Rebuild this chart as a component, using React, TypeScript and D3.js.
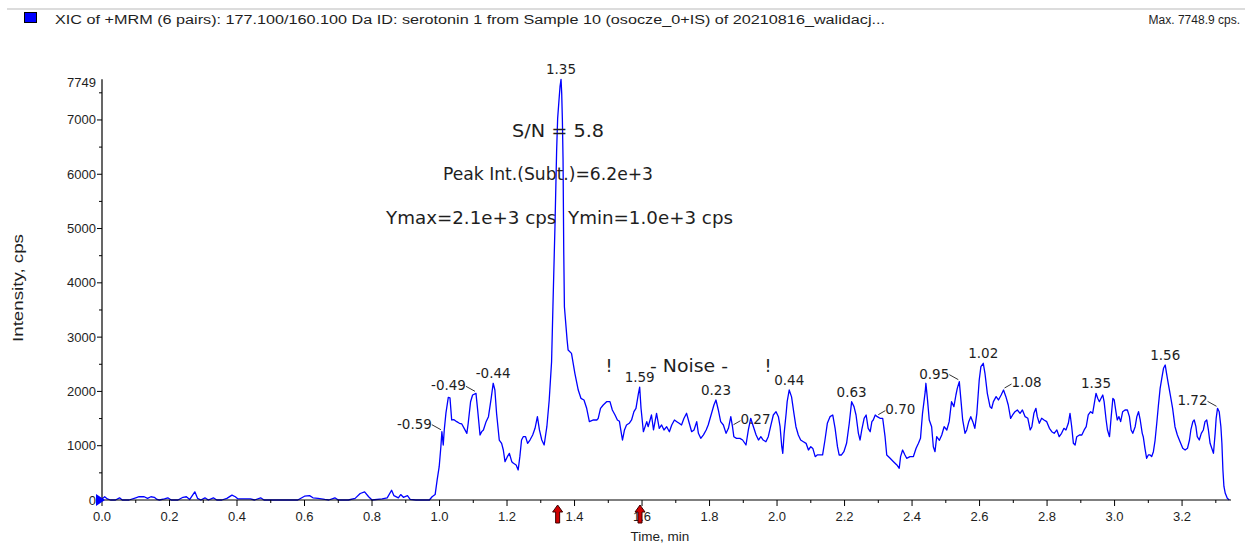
import React from 'react';
import * as d3 from 'd3';

// ---------- DATA ----------
const TITLE =
  'XIC of +MRM (6 pairs): 177.100/160.100 Da ID: serotonin 1 from Sample 10 (osocze_0+IS) of 20210816_walidacj...';
const MAX_TEXT = 'Max. 7748.9 cps.';
const X_LABEL = 'Time, min';
const Y_LABEL = 'Intensity, cps';

const X_MAX = 3.342;
const Y_MAX = 7749;

const xTickValues = [0, 0.2, 0.4, 0.6, 0.8, 1.0, 1.2, 1.4, 1.6, 1.8, 2.0, 2.2, 2.4, 2.6, 2.8, 3.0, 3.2];
const yTickValues = [0, 1000, 2000, 3000, 4000, 5000, 6000, 7000];

// [time (min), intensity (cps)]
const baselineSegment: [number, number][] = [
  [0.0, 20], [0.008, 60], [0.016, 20], [0.025, 0], [0.04, 0], [0.052, 40], [0.06, 0], [0.08, 0],
  [0.1, 40], [0.11, 60], [0.125, 60], [0.135, 30], [0.145, 60], [0.155, 50], [0.163, 10], [0.17, 0],
  [0.185, 20], [0.195, 40], [0.205, 0], [0.225, 0], [0.24, 50], [0.25, 60], [0.26, 10], [0.275, 150],
  [0.283, 30], [0.293, 0], [0.305, 40], [0.315, 0], [0.33, 40], [0.34, 0], [0.355, 0], [0.37, 30],
  [0.385, 90], [0.395, 60], [0.403, 20], [0.413, 20], [0.425, 20], [0.44, 20], [0.452, 0], [0.47, 40],
  [0.48, 0], [0.5, 0], [0.515, 0], [0.53, 0], [0.545, 0], [0.56, 0], [0.58, 0], [0.6, 70], [0.615, 80],
  [0.625, 40], [0.64, 30], [0.66, 10], [0.672, 0], [0.69, 40], [0.7, 0], [0.73, 0], [0.75, 30],
  [0.765, 120], [0.778, 150], [0.79, 60], [0.8, 0], [0.83, 20], [0.845, 40], [0.858, 180], [0.865, 80],
  [0.878, 40], [0.885, 100], [0.893, 50], [0.905, 80], [0.913, 10], [0.93, 0], [0.955, 0], [0.97, 0],
  [0.978, 60], [0.987, 100],
];

const riseSegment: [number, number][] = [
  [0.993, 370], [0.999, 613], [1.004, 982], [1.007, 1258], [1.011, 1013], [1.014, 1290], [1.019, 1600],
  [1.026, 1890], [1.031, 1880], [1.036, 1474], [1.043, 1480], [1.051, 1443], [1.059, 1413], [1.066, 1400],
  [1.073, 1320], [1.081, 1228], [1.085, 1413], [1.092, 1810], [1.098, 1934], [1.108, 1965], [1.113, 1658],
  [1.12, 1197], [1.125, 1260], [1.13, 1290], [1.138, 1443], [1.145, 1535], [1.153, 1873], [1.159, 2150],
  [1.164, 2026], [1.169, 1597], [1.177, 1105], [1.184, 1044], [1.189, 921], [1.194, 706], [1.201, 798],
  [1.207, 860], [1.214, 706], [1.219, 676], [1.227, 645], [1.233, 553], [1.238, 798], [1.243, 1105],
  [1.248, 1166], [1.255, 1166], [1.261, 1044], [1.268, 1105], [1.276, 1197], [1.283, 1320], [1.29, 1535],
  [1.296, 1290], [1.303, 1105], [1.31, 1013], [1.318, 1350], [1.325, 1842],
];

const peakSegment: [number, number][] = [
  [1.332, 2548], [1.336, 3560], [1.342, 5034], [1.347, 6447], [1.35, 7030], [1.354, 7368], [1.357, 7613],
  [1.36, 7749], [1.362, 7490], [1.364, 7000], [1.366, 6263], [1.368, 4605], [1.37, 3560], [1.378, 2947],
  [1.381, 2763], [1.391, 2700], [1.401, 2334], [1.411, 2026], [1.419, 1873], [1.428, 1842], [1.436, 1689],
  [1.444, 1443], [1.456, 1474], [1.466, 1474], [1.47, 1500], [1.477, 1689], [1.485, 1750], [1.495, 1811],
  [1.505, 1811], [1.512, 1658], [1.52, 1566], [1.527, 1474], [1.533, 1450], [1.537, 1290], [1.542, 1105],
  [1.548, 1290], [1.554, 1382], [1.562, 1413], [1.569, 1474], [1.576, 1627], [1.582, 1689], [1.589, 1950],
  [1.593, 2080], [1.597, 1689],
];

const noiseSegmentA: [number, number][] = [
  [1.604, 1258], [1.614, 1443], [1.618, 1350], [1.628, 1566], [1.634, 1290], [1.643, 1597], [1.651, 1320],
  [1.658, 1382], [1.665, 1290], [1.673, 1350], [1.681, 1258], [1.688, 1382], [1.696, 1474], [1.703, 1443],
  [1.71, 1413], [1.717, 1382], [1.724, 1500], [1.732, 1597], [1.74, 1413], [1.747, 1258], [1.754, 1290],
  [1.762, 1443], [1.767, 1228], [1.774, 1136], [1.782, 1200], [1.79, 1290], [1.796, 1382], [1.806, 1597],
  [1.813, 1750], [1.819, 1842], [1.826, 1658], [1.833, 1443], [1.841, 1382], [1.849, 1228], [1.856, 1320],
  [1.863, 1535], [1.868, 1350], [1.872, 1166], [1.88, 1136], [1.89, 1136], [1.898, 1105], [1.908, 1013],
  [1.915, 1290], [1.922, 1505], [1.93, 1350], [1.938, 1197], [1.945, 1105], [1.952, 1166], [1.959, 1105],
  [1.967, 1074], [1.974, 1166], [1.982, 1382], [1.989, 1566], [1.997, 1627], [2.004, 1535], [2.009, 1350],
  [2.014, 982], [2.017, 860], [2.021, 1228], [2.027, 1597], [2.03, 1811], [2.036, 2026], [2.043, 1900],
  [2.05, 1597], [2.056, 1350], [2.063, 1197], [2.07, 1105], [2.078, 1074], [2.086, 1044], [2.093, 921],
  [2.1, 982], [2.106, 950], [2.113, 798], [2.119, 830], [2.127, 830], [2.135, 830], [2.142, 1105],
  [2.149, 1413], [2.157, 1535], [2.165, 1566], [2.172, 1320], [2.179, 982], [2.184, 829], [2.191, 829],
  [2.198, 890], [2.206, 1044], [2.214, 1413], [2.221, 1811], [2.228, 1720], [2.234, 1566], [2.241, 1228],
  [2.246, 1105], [2.251, 1290], [2.258, 1505], [2.264, 1566], [2.27, 1320], [2.276, 1258], [2.281, 1443],
  [2.285, 1474], [2.291, 1566], [2.297, 1535], [2.305, 1505], [2.313, 1505], [2.32, 1166], [2.325, 829],
  [2.335, 768], [2.345, 706], [2.355, 645], [2.362, 584], [2.366, 800], [2.372, 921], [2.379, 829],
  [2.384, 768], [2.394, 800], [2.404, 800],
];

const noiseSegmentB: [number, number][] = [
  [2.412, 952], [2.419, 1044], [2.425, 1136], [2.431, 1597], [2.439, 1995], [2.441, 2150], [2.445, 1900],
  [2.451, 1474], [2.458, 1350], [2.463, 982], [2.468, 890], [2.473, 1166], [2.481, 1100], [2.488, 1197],
  [2.495, 1350], [2.503, 1290], [2.51, 1443], [2.517, 1811], [2.524, 1720], [2.53, 1934], [2.534, 2057],
  [2.54, 2180], [2.544, 1900], [2.55, 1474], [2.557, 1228], [2.562, 1290], [2.568, 1443], [2.574, 1535],
  [2.58, 1443], [2.586, 1320], [2.592, 1597], [2.599, 2210], [2.604, 2456], [2.611, 2518], [2.616, 2334],
  [2.623, 1965], [2.631, 1719], [2.636, 1690], [2.641, 1811], [2.649, 1903], [2.656, 1842], [2.664, 1934],
  [2.671, 2026], [2.678, 1903], [2.685, 1750], [2.692, 1505], [2.698, 1566], [2.705, 1627], [2.712, 1658],
  [2.72, 1597], [2.727, 1658], [2.735, 1535], [2.743, 1505], [2.75, 1290], [2.755, 1350], [2.761, 1597],
  [2.767, 1689], [2.771, 1535], [2.777, 1413], [2.784, 1505], [2.791, 1474], [2.799, 1443], [2.807, 1320],
  [2.814, 1258], [2.821, 1228], [2.829, 1290], [2.836, 1166], [2.843, 1228], [2.85, 1320], [2.856, 1290],
  [2.863, 1413], [2.868, 1597], [2.873, 1350], [2.878, 1044], [2.883, 1013], [2.888, 1166], [2.896, 1197],
  [2.903, 1197], [2.91, 1290], [2.916, 1350], [2.922, 1566], [2.929, 1627], [2.935, 1597], [2.94, 1781],
  [2.945, 1965], [2.95, 1873], [2.955, 1811], [2.96, 1873], [2.965, 1934], [2.969, 1811], [2.975, 1474],
  [2.979, 1290], [2.985, 1166], [2.99, 1535], [2.995, 1873], [2.999, 1842], [3.004, 1627], [3.008, 1474],
  [3.013, 1535], [3.018, 1443], [3.024, 1627], [3.031, 1658], [3.038, 1658], [3.044, 1535], [3.049, 1290],
  [3.054, 1228], [3.061, 1350], [3.066, 1535], [3.071, 1627], [3.076, 1474], [3.082, 1228], [3.085, 1166],
  [3.09, 952], [3.095, 768], [3.1, 830], [3.105, 830], [3.11, 800], [3.115, 890], [3.12, 1100],
  [3.125, 1413], [3.13, 1750], [3.135, 2057], [3.141, 2280], [3.145, 2426], [3.15, 2487], [3.154, 2334],
  [3.159, 2150], [3.166, 1903], [3.172, 1689], [3.179, 1350], [3.186, 1197], [3.194, 1074], [3.202, 952],
  [3.209, 921], [3.216, 952], [3.222, 1105], [3.226, 1290], [3.232, 1443], [3.236, 1474], [3.241, 1350],
  [3.245, 1166], [3.251, 1105], [3.257, 1228], [3.263, 1290], [3.268, 1443], [3.273, 1474], [3.278, 1290],
  [3.283, 1044], [3.288, 952], [3.293, 860], [3.298, 1228], [3.301, 1505], [3.305, 1689], [3.31, 1627],
  [3.315, 1350], [3.318, 1044], [3.321, 553], [3.324, 250], [3.328, 123], [3.334, 31], [3.34, 0],
];

// peak labels: time of apex, text, placement
const peakLabels: { t: number; text: string; side: 'top' | 'left' | 'right' }[] = [
  { t: 1.007, text: '-0.59', side: 'left' },
  { t: 1.108, text: '-0.49', side: 'left' },
  { t: 1.159, text: '-0.44', side: 'top' },
  { t: 1.36, text: '1.35', side: 'top' },
  { t: 1.593, text: '1.59', side: 'top' },
  { t: 1.819, text: '0.23', side: 'top' },
  { t: 1.868, text: '0.27', side: 'right' },
  { t: 2.036, text: '0.44', side: 'top' },
  { t: 2.221, text: '0.63', side: 'top' },
  { t: 2.297, text: '0.70', side: 'right' },
  { t: 2.54, text: '0.95', side: 'left' },
  { t: 2.611, text: '1.02', side: 'top' },
  { t: 2.671, text: '1.08', side: 'right' },
  { t: 2.945, text: '1.35', side: 'top' },
  { t: 3.15, text: '1.56', side: 'top' },
  { t: 3.305, text: '1.72', side: 'left' },
];

const integrationMarkers = [1.35, 1.594];

const annotationLines = ['S/N = 5.8', 'Peak Int.(Subt.)=6.2e+3', 'Ymax=2.1e+3 cps  Ymin=1.0e+3 cps'];
const NOISE_TEXT = '- Noise -';

// ---------- CHART ----------
const W = 1245;
const H = 544;
const TXT = '#1e1e1e';
const SANS = '"Liberation Sans", Arial, sans-serif';
const ANN = '"DejaVu Sans", Verdana, sans-serif';

export default function App() {
  const trace = [...baselineSegment, ...riseSegment, ...peakSegment, ...noiseSegmentA, ...noiseSegmentB];
  const x = d3.scaleLinear().domain([0, X_MAX]).range([102, 1230]);
  const y = d3.scaleLinear().domain([0, Y_MAX]).range([500, 79.3]);
  const line = d3
    .line<[number, number]>()
    .x((d) => x(d[0]))
    .y((d) => y(d[1]));

  const xMinor = d3.range(0.1, 3.35, 0.2);
  const yMinor = d3.range(500, 7749, 1000);

  const valueAt = (t: number) => {
    let best = trace[0];
    for (const p of trace) if (Math.abs(p[0] - t) < Math.abs(best[0] - t)) best = p;
    return best[1];
  };

  const x0 = x(0);
  const y0 = y(0);

  return (
    <svg width={W} height={H} style={{ position: 'absolute', left: 0, top: 0, background: '#fff' }}>
      <rect x={0} y={0} width={W} height={H} fill="#fff" />
      {/* header */}
      <rect x={7} y={8} width={W - 7} height={2} fill="#dcdcdc" />
      <rect x={24.5} y={12.5} width={12} height={10} fill="#0000ff" stroke="#000" strokeWidth={1} />
      <text x={55} y={24} fontFamily={SANS} fontSize={12.5} fill={TXT} textLength={830} lengthAdjust="spacingAndGlyphs">
        {TITLE}
      </text>
      <text x={1240} y={24} fontFamily={SANS} fontSize={12} fill={TXT} textAnchor="end">
        {MAX_TEXT}
      </text>

      {/* trace */}
      <path d={line(trace) || ''} fill="none" stroke="#0000ff" strokeWidth={1.3} strokeLinejoin="round" />

      {/* axes */}
      <line x1={x0} y1={y(Y_MAX)} x2={x0} y2={y0} stroke="#000" strokeWidth={1.2} />
      <line x1={x0} y1={y0} x2={x(X_MAX) + 1} y2={y0} stroke="#000" strokeWidth={1.2} />
      {xTickValues.map((v) => (
        <g key={'xt' + v}>
          <line x1={x(v)} y1={y0} x2={x(v)} y2={y0 + 6} stroke="#000" />
          <text x={x(v)} y={y0 + 21} fontFamily={SANS} fontSize={13} fill={TXT} textAnchor="middle">
            {v.toFixed(1)}
          </text>
        </g>
      ))}
      {xMinor.map((v) => (
        <line key={'xm' + v} x1={x(v)} y1={y0} x2={x(v)} y2={y0 + 3} stroke="#000" />
      ))}
      {yTickValues.map((v) => (
        <g key={'yt' + v}>
          <line x1={x0 - 5} y1={y(v)} x2={x0} y2={y(v)} stroke="#000" />
          <text x={x0 - 6} y={y(v) + 4.5} fontFamily={SANS} fontSize={13} fill={TXT} textAnchor="end">
            {v}
          </text>
        </g>
      ))}
      {yMinor.map((v) => (
        <line key={'ym' + v} x1={x0 - 3} y1={y(v)} x2={x0} y2={y(v)} stroke="#000" />
      ))}
      <text x={x0 - 6} y={y(Y_MAX) + 8} fontFamily={SANS} fontSize={13} fill={TXT} textAnchor="end">
        {Y_MAX}
      </text>
      {/* zero marker */}
      <path d={`M${x0 - 6},${y0 - 6} L${x0 + 3},${y0} L${x0 - 6},${y0 + 6} Z`} fill="#0000ff" />

      {/* axis titles */}
      <text x={660} y={541} fontFamily={SANS} fontSize={13.5} fill={TXT} textAnchor="middle">
        {X_LABEL}
      </text>
      <text
        transform={`translate(23,288) rotate(-90)`}
        fontFamily={SANS}
        fontSize={15}
        fill={TXT}
        textAnchor="middle"
        textLength={108}
        lengthAdjust="spacingAndGlyphs"
      >
        {Y_LABEL}
      </text>

      {/* integration markers */}
      {integrationMarkers.map((t) => {
        const cx = x(t);
        return (
          <path
            key={'im' + t}
            d={`M${cx},${505} L${cx + 5},${512} L${cx + 2},${512} L${cx + 2},${523} L${cx - 2},${523} L${cx - 2},${512} L${cx - 5},${512} Z`}
            fill="#d00000"
            stroke="#3a0000"
            strokeWidth={1}
          />
        );
      })}

      {/* peak labels */}
      {peakLabels.map((p, i) => {
        const px = x(p.t);
        const py = y(valueAt(p.t));
        if (p.side === 'top') {
          return (
            <text key={'pl' + i} x={px} y={py - 5} fontFamily={ANN} fontSize={13.5} fill={TXT} textAnchor="middle">
              {p.text}
            </text>
          );
        }
        if (p.side === 'left') {
          return (
            <g key={'pl' + i}>
              <line x1={px - 10} y1={py - 7} x2={px - 1} y2={py - 2} stroke="#333" />
              <text x={px - 10} y={py - 3} fontFamily={ANN} fontSize={13.5} fill={TXT} textAnchor="end">
                {p.text}
              </text>
            </g>
          );
        }
        return (
          <g key={'pl' + i}>
            <line x1={px + 1} y1={py - 2} x2={px + 8} y2={py - 6} stroke="#333" />
            <text x={px + 8} y={py - 3} fontFamily={ANN} fontSize={13.5} fill={TXT} textAnchor="start">
              {p.text}
            </text>
          </g>
        );
      })}

      {/* annotations */}
      <text x={512} y={137} fontFamily={ANN} fontSize={17.5} fill={TXT} textLength={92} lengthAdjust="spacingAndGlyphs">
        {annotationLines[0]}
      </text>
      <text x={443} y={180} fontFamily={ANN} fontSize={17.5} fill={TXT} textLength={210} lengthAdjust="spacingAndGlyphs">
        {annotationLines[1]}
      </text>
      <text
        x={386}
        y={224}
        fontFamily={ANN}
        fontSize={17.5}
        fill={TXT}
        textLength={347}
        lengthAdjust="spacingAndGlyphs"
        style={{ whiteSpace: 'pre' }}
      >
        {annotationLines[2]}
      </text>
      <text x={650} y={372} fontFamily={ANN} fontSize={17.5} fill={TXT} textLength={78} lengthAdjust="spacingAndGlyphs">
        {NOISE_TEXT}
      </text>
      <text x={609} y={372} fontFamily={ANN} fontSize={17.5} fill={TXT} textAnchor="middle">
        !
      </text>
      <text x={768} y={372} fontFamily={ANN} fontSize={17.5} fill={TXT} textAnchor="middle">
        !
      </text>
    </svg>
  );
}
